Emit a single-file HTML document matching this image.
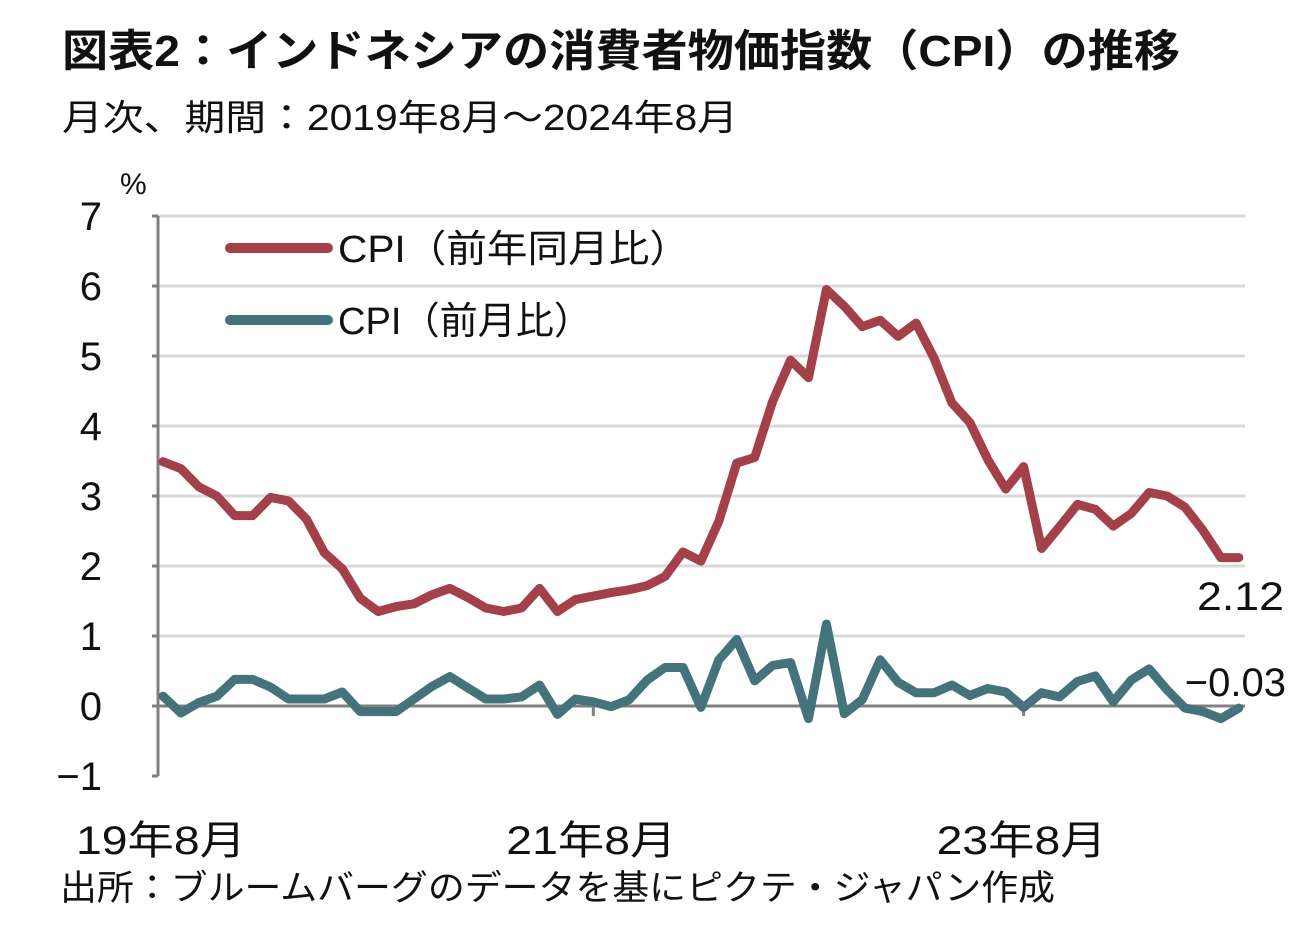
<!DOCTYPE html>
<html><head><meta charset="utf-8">
<style>
body{margin:0;background:#fff;width:1314px;height:926px;overflow:hidden;font-family:"Liberation Sans Narrow","Liberation Sans","Noto Sans CJK JP",sans-serif;color:#111}
svg text{font-family:"Liberation Sans Narrow","Liberation Sans","Noto Sans CJK JP",sans-serif;fill:#111}
</style></head><body>
<svg id="chart" width="1314" height="926">
<text x="62" y="66" font-size="44" font-weight="bold" textLength="1118" lengthAdjust="spacingAndGlyphs" font-family="'Liberation Sans','Noto Sans CJK JP',sans-serif">図表2：インドネシアの消費者物価指数（CPI）の推移</text>
<text x="62" y="130" font-size="36" textLength="676" lengthAdjust="spacingAndGlyphs">月次、期間：2019年8月～2024年8月</text>
<text x="120" y="194" font-size="30">%</text>
<g id="grid"></g>
<g id="axes"></g>
<g id="lines"></g>
<g>
<line x1="230" y1="248" x2="328" y2="248" stroke="#a3404a" stroke-width="10" stroke-linecap="round"/>
<text x="338" y="262" font-size="38" textLength="352" lengthAdjust="spacingAndGlyphs">CPI（前年同月比）</text>
<line x1="230" y1="320" x2="328" y2="320" stroke="#44737b" stroke-width="10" stroke-linecap="round"/>
<text x="338" y="334" font-size="38" textLength="254" lengthAdjust="spacingAndGlyphs">CPI（前月比）</text>
</g>
<text x="1197" y="610" font-size="40" textLength="87" lengthAdjust="spacingAndGlyphs">2.12</text>
<text x="1286" y="696" font-size="40" text-anchor="end">−0.03</text>
<text x="60" y="900" font-size="35" textLength="995" lengthAdjust="spacingAndGlyphs">出所：ブルームバーグのデータを基にピクテ・ジャパン作成</text>
</svg>
<script>
const yTicks=[-1,0,1,2,3,4,5,6,7];
const yTickLabels=["−1","0","1","2","3","4","5","6","7"];
const xLabelIdx=[0,24,48];
const xLabels=["19年8月","21年8月","23年8月"];
const yoy=[3.49,3.39,3.13,3.00,2.72,2.72,2.98,2.93,2.67,2.19,1.96,1.54,1.35,1.42,1.46,1.59,1.68,1.55,1.40,1.35,1.40,1.68,1.35,1.52,1.57,1.62,1.66,1.72,1.85,2.20,2.07,2.64,3.47,3.55,4.35,4.94,4.69,5.95,5.71,5.42,5.51,5.28,5.47,4.97,4.33,4.05,3.52,3.10,3.42,2.25,2.56,2.88,2.81,2.57,2.75,3.05,3.00,2.84,2.51,2.12,2.12];
const mom=[0.14,-0.10,0.05,0.14,0.38,0.38,0.27,0.10,0.10,0.10,0.20,-0.08,-0.08,-0.08,0.10,0.28,0.42,0.26,0.10,0.10,0.13,0.30,-0.12,0.10,0.06,-0.01,0.09,0.37,0.55,0.55,-0.02,0.66,0.95,0.36,0.58,0.62,-0.18,1.17,-0.11,0.09,0.66,0.34,0.19,0.19,0.30,0.15,0.25,0.20,-0.02,0.19,0.13,0.35,0.43,0.06,0.37,0.53,0.23,-0.03,-0.08,-0.18,-0.03];
const X0=163,STEP=17.93,Y0=706,UNIT=70;
function xs(i){return X0+i*STEP;}
function ys(v){return Y0-v*UNIT;}
const NS="http://www.w3.org/2000/svg";
const grid=document.getElementById('grid'),axes=document.getElementById('axes'),lines=document.getElementById('lines');
yTicks.forEach((t,k)=>{
  if(t>0){const l=document.createElementNS(NS,'line');
  l.setAttribute('x1',158);l.setAttribute('x2',1245);l.setAttribute('y1',ys(t));l.setAttribute('y2',ys(t));
  l.setAttribute('stroke','#d9d9d9');l.setAttribute('stroke-width',3);
  
  
  grid.appendChild(l);}
  const tk=document.createElementNS(NS,'line');
  tk.setAttribute('x1',152);tk.setAttribute('x2',158);tk.setAttribute('y1',ys(t));tk.setAttribute('y2',ys(t));
  tk.setAttribute('stroke','#808080');tk.setAttribute('stroke-width',3);
  
  
  axes.appendChild(tk);
  const tx=document.createElementNS(NS,'text');
  tx.setAttribute('x',102);tx.setAttribute('y',ys(t)+14);tx.setAttribute('text-anchor','end');tx.setAttribute('font-size',40);
  tx.textContent=yTickLabels[k];
  
  
  axes.appendChild(tx);
});
const va=document.createElementNS(NS,'line');
va.setAttribute('x1',158);va.setAttribute('x2',158);va.setAttribute('y1',ys(7));va.setAttribute('y2',ys(-1));
va.setAttribute('stroke','#808080');va.setAttribute('stroke-width',3);


axes.appendChild(va);
const za=document.createElementNS(NS,'line');
za.setAttribute('x1',158);za.setAttribute('x2',1245);za.setAttribute('y1',ys(0));za.setAttribute('y2',ys(0));
za.setAttribute('stroke','#808080');za.setAttribute('stroke-width',3);


axes.appendChild(za);
xLabelIdx.forEach((i,k)=>{
  if(i>0){const tk=document.createElementNS(NS,'line');
  tk.setAttribute('x1',xs(i));tk.setAttribute('x2',xs(i));tk.setAttribute('y1',ys(0));tk.setAttribute('y2',ys(0)+10);
  tk.setAttribute('stroke','#808080');tk.setAttribute('stroke-width',3);
  
  
  axes.appendChild(tk);}
  const tx=document.createElementNS(NS,'text');
  tx.setAttribute('x',xs(i)-2-85);tx.setAttribute('y',854);tx.setAttribute('font-size',40);
  tx.setAttribute('textLength',170);tx.setAttribute('lengthAdjust','spacingAndGlyphs');
  tx.textContent=xLabels[k];
  
  
  axes.appendChild(tx);
});
function draw(arr,color,name){
  const p=document.createElementNS(NS,'polyline');
  p.setAttribute('points',arr.map((v,i)=>xs(i)+','+ys(v)).join(' '));
  p.setAttribute('fill','none');p.setAttribute('stroke',color);p.setAttribute('stroke-width',9);
  p.setAttribute('stroke-linejoin','round');p.setAttribute('stroke-linecap','round');
  
  
  lines.appendChild(p);
}
draw(mom,'#44737b','mom-line');
draw(yoy,'#a3404a','yoy-line');
</script>
</body></html>
